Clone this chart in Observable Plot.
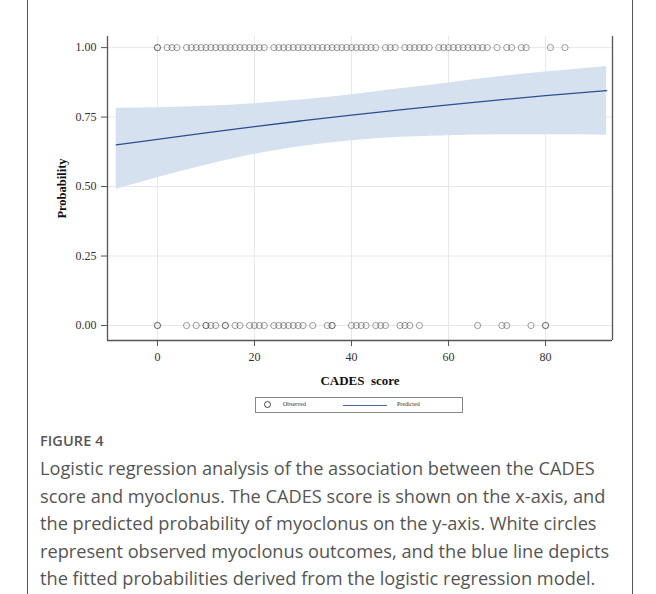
<!DOCTYPE html>
<html>
<head>
<meta charset="utf-8">
<script src="https://cdn.jsdelivr.net/npm/d3@7"></script>
<script src="https://cdn.jsdelivr.net/npm/@observablehq/plot@0.6"></script>
<style>
  html, body { margin: 0; padding: 0; background: #fff; }
  body { width: 656px; height: 594px; position: relative; overflow: hidden; }
  #frame { position: absolute; left: 27px; top: 0; width: 606px; height: 594px;
           border-left: 1px solid #555; border-right: 1px solid #555; box-sizing: border-box; }
  #chart { position: absolute; left: 0; top: 0; }
  #legend { position: absolute; left: 255px; top: 397px; width: 208px; height: 16px;
            border: 1px solid #888; box-sizing: border-box; font-family: "Liberation Serif", serif; font-size: 6px; color: #333; }
  #legend .c { position: absolute; left: 8px; top: 3px; width: 7px; height: 7px; border: 1px solid #444; border-radius: 50%; box-sizing: border-box; }
  #legend .t1 { position: absolute; left: 27px; top: 3px; }
  #legend .l { position: absolute; left: 87px; top: 7px; width: 44px; height: 0; border-top: 1.5px solid #4a6aa8; }
  #legend .t2 { position: absolute; left: 141px; top: 3px; }
  #fig { position: absolute; left: 40px; top: 431px; font-family: "Open Sans", sans-serif; font-size: 14.5px; color: #555; font-weight: 600; letter-spacing: 0.1px; }
  #cap { position: absolute; left: 40px; top: 455px; width: 585px; font-family: "Open Sans", sans-serif; font-size: 18.2px; line-height: 27.6px; color: #555; font-weight: 400; }
</style>
</head>
<body>
<div id="frame"></div>
<div id="chart"></div>
<div id="legend"><div class="c"></div><div class="t1">Observed</div><div class="l"></div><div class="t2">Predicted</div></div>
<div id="fig">FIGURE 4</div>
<div id="cap">Logistic regression analysis of the association between the CADES score and myoclonus. The CADES score is shown on the x-axis, and the predicted probability of myoclonus on the y-axis. White circles represent observed myoclonus outcomes, and the blue line depicts the fitted probabilities derived from the logistic regression model.</div>
<script>
// Observed CADES scores with myoclonus (outcome = 1)
const scoresOutcome1 = [0,0,2,3,4,6,7,8,9,10,11,12,13,14,15,16,17,18,19,20,21,22,
  24,25,26,27,28,29,30,31,32,33,34,35,36,37,38,39,40,41,42,43,44,45,
  47,48,49,51,52,53,54,55,56,58,59,60,61,62,63,64,65,66,67,68,70,72,73,75,76,81,84];
// Observed CADES scores without myoclonus (outcome = 0)
const scoresOutcome0 = [0,0,6,8,10,10,11,12,14,14,16,17,19,20,21,22,24,25,26,27,28,29,30,32,35,36,36,
  40,41,42,43,45,46,47,50,51,52,54,66,71,72,77,80,80];
// Fitted logistic curve and 95% CI
const fitX  = [-8.5, 0, 10, 20, 30, 40, 50, 60, 70, 80, 92.6];
const fitP  = [0.650,0.670,0.693,0.716,0.737,0.757,0.776,0.794,0.811,0.827,0.845];
const fitLo = [0.490,0.532,0.577,0.616,0.645,0.665,0.677,0.683,0.686,0.686,0.685];
const fitHi = [0.782,0.784,0.789,0.798,0.812,0.830,0.852,0.873,0.894,0.912,0.932];
const xTicks = [0, 20, 40, 60, 80];
const yTicks = [0, 0.25, 0.5, 0.75, 1];
const xDomain = [-10.3, 93.8];
const yDomain = [-0.054, 1.04];

const obs = [
  ...scoresOutcome1.map(s => ({score: s, y: 1})),
  ...scoresOutcome0.map(s => ({score: s, y: 0}))
];
const fit = fitX.map((x, i) => ({x, p: fitP[i], lo: fitLo[i], hi: fitHi[i]}));

const plot = Plot.plot({
  width: 656,
  height: 395,
  marginLeft: 107,
  marginRight: 44,
  marginTop: 36,
  marginBottom: 55,
  style: {fontFamily: "'Liberation Serif', serif", fontSize: "11.5px", color: "#333", background: "transparent"},
  x: {domain: xDomain, label: null},
  y: {domain: yDomain, label: null},
  marks: [
    Plot.gridX(xTicks, {stroke: "#e8e8e8", strokeOpacity: 1, strokeWidth: 1}),
    Plot.gridY(yTicks, {stroke: "#e8e8e8", strokeOpacity: 1, strokeWidth: 1}),
    Plot.areaY(fit, {x: "x", y1: "lo", y2: "hi", fill: "#d6e1f0", curve: "monotone-x"}),
    Plot.lineY(fit, {x: "x", y: "p", stroke: "#2b4f8e", strokeWidth: 1.3, curve: "monotone-x"}),
    Plot.dot(obs, {x: "score", y: "y", r: 3.1, stroke: "#444", strokeWidth: 0.7, strokeOpacity: 0.75, fill: "none"}),
    Plot.ruleX([xDomain[0], xDomain[1]], {stroke: "#555", strokeWidth: 1.3}),
    Plot.ruleY([yDomain[0]], {stroke: "#555", strokeWidth: 1.3}),
    Plot.axisX(xTicks, {tickSize: 6, tickPadding: 6, stroke: "#555", fontSize: 12, fill: "#333", label: null, tickFormat: d3.format("d")}),
    Plot.axisY(yTicks, {tickSize: 6, tickPadding: 5, stroke: "#555", fontSize: 12, fill: "#333", label: null, tickFormat: d3.format(".2f")}),
    Plot.axisX({label: "CADES  score", labelArrow: "none", labelAnchor: "center", labelOffset: 44, ticks: [], tickSize: 0, fontSize: 13, fontWeight: "bold", fill: "#111"}),
    Plot.axisY({label: "Probability", labelArrow: "none", labelAnchor: "center", labelOffset: 50, ticks: [], tickSize: 0, fontSize: 12.5, fontWeight: "bold", fill: "#111"})
  ]
});
document.getElementById("chart").appendChild(plot);
</script>
</body>
</html>
